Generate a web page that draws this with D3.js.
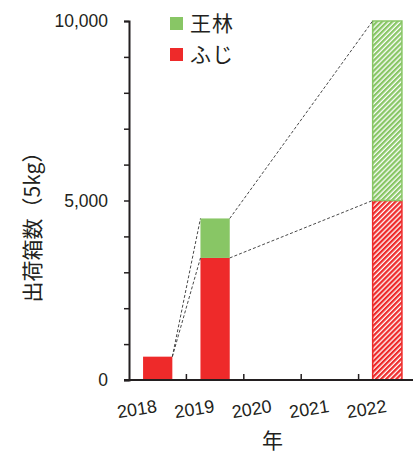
<!DOCTYPE html>
<html>
<head>
<meta charset="utf-8">
<script src="https://cdn.jsdelivr.net/npm/d3@7"></script>
<style>
  body { margin: 0; background: #fff; }
  svg { display: block; }
  .num { font-family: "Liberation Sans", Arial, sans-serif; fill: #231f20; }
  .jp { font-family: "Noto Sans CJK JP", sans-serif; fill: #231f20; }
</style>
</head>
<body>
<svg id="chart" width="420" height="455"></svg>
<script>
// data
const years = ["2018", "2019", "2020", "2021", "2022"];
const fuji = [650, 3400, null, null, 5000];
const orin = [0, 1100, null, null, 5000];
const planned = ["2022"];
const seriesNames = ["王林", "ふじ"];
const yTicks = [0, 1000, 2000, 3000, 4000, 5000, 6000, 7000, 8000, 9000, 10000];

const green = "#88c665";
const red = "#ee2a2a";
const ink = "#231f20";

const svg = d3.select("#chart");
const plotL = 129, plotR = 416, plotT = 21, plotB = 380;

const x = d3.scaleBand().domain(years).range([plotL, plotR]).padding(0);
const y = d3.scaleLinear().domain([0, 10000]).range([plotB, plotT]);
const barW = x.bandwidth() * 0.51;
const bx = yr => x(yr) + (x.bandwidth() - barW) / 2;

// hatch patterns for the planned year
const defs = svg.append("defs");
[["hatchG", green], ["hatchR", red]].forEach(([id, c]) => {
  const p = defs.append("pattern")
    .attr("id", id)
    .attr("patternUnits", "userSpaceOnUse")
    .attr("width", 3.6).attr("height", 3.6)
    .attr("patternTransform", "rotate(45)");
  p.append("rect").attr("width", 3.6).attr("height", 3.6).attr("fill", "#fff");
  p.append("rect").attr("width", 2.3).attr("height", 3.6).attr("fill", c);
});

// stacked rows
const rows = years.map((yr, i) => ({ yr, fuji: fuji[i], orin: orin[i] }))
  .filter(d => d.fuji != null);

const g = svg.append("g");
rows.forEach(d => {
  const hatched = planned.includes(d.yr);
  // ふじ
  g.append("rect")
    .attr("x", bx(d.yr)).attr("width", barW)
    .attr("y", y(d.fuji)).attr("height", y(0) - y(d.fuji))
    .attr("fill", hatched ? "url(#hatchR)" : red)
    .attr("stroke", hatched ? red : "none")
    .attr("stroke-width", 1.5);
  // 王林
  if (d.orin > 0) {
    g.append("rect")
      .attr("x", bx(d.yr)).attr("width", barW)
      .attr("y", y(d.fuji + d.orin)).attr("height", y(d.fuji) - y(d.fuji + d.orin))
      .attr("fill", hatched ? "url(#hatchG)" : green)
      .attr("stroke", hatched ? green : "none")
      .attr("stroke-width", 1.5);
  }
});

// dashed connector lines between bars
const links = [];
for (let i = 0; i < rows.length - 1; i++) {
  const a = rows[i], b = rows[i + 1];
  const ax = bx(a.yr) + barW, bxl = bx(b.yr);
  links.push([ax, y(a.fuji + a.orin), bxl, y(b.fuji + b.orin)]);
  links.push([ax, y(a.fuji), bxl, y(b.fuji)]);
}
svg.append("g").selectAll("line").data(links).join("line")
  .attr("x1", d => d[0]).attr("y1", d => d[1])
  .attr("x2", d => d[2]).attr("y2", d => d[3])
  .attr("stroke", "#333").attr("stroke-width", 0.9)
  .attr("stroke-dasharray", "3,2");

// y axis
const yAxis = d3.axisLeft(y)
  .tickValues(yTicks)
  .tickSize(5)
  .tickPadding(16)
  .tickFormat(v => v % 5000 === 0 ? d3.format(",")(v) : "");
const yG = svg.append("g").attr("transform", `translate(${plotL},0)`).call(yAxis);
yG.select(".domain").attr("stroke", ink).attr("stroke-width", 2);
yG.selectAll(".tick line").attr("stroke", ink).attr("stroke-width", 1.5);
yG.selectAll(".tick text").attr("class", "num").attr("font-size", 17.5);

// x axis, ticks between categories pointing up
const xG = svg.append("g");
xG.append("line")
  .attr("x1", plotL - 5).attr("x2", plotR - 3)
  .attr("y1", plotB).attr("y2", plotB)
  .attr("stroke", ink).attr("stroke-width", 2);
xG.selectAll(".xt").data(years.slice(1)).join("line")
  .attr("class", "xt")
  .attr("x1", d => x(d)).attr("x2", d => x(d))
  .attr("y1", plotB).attr("y2", plotB - 6)
  .attr("stroke", ink).attr("stroke-width", 1.5);
xG.selectAll("text").data(years).join("text")
  .attr("class", "num")
  .attr("font-size", 18)
  .attr("text-anchor", "end")
  .attr("transform", d => `translate(${x(d) + x.bandwidth() / 2},412) rotate(-9)`)
  .text(d => d);

// axis titles
svg.append("text").attr("class", "jp")
  .attr("font-size", 21)
  .attr("text-anchor", "middle")
  .attr("x", (plotL + plotR) / 2).attr("y", 448)
  .text("年");
svg.append("text").attr("class", "jp")
  .attr("font-size", 21)
  .attr("text-anchor", "middle")
  .attr("transform", `translate(40,222) rotate(-90)`)
  .text("出荷箱数（5kg）");

// legend
const legColors = [green, red];
const leg = svg.append("g").selectAll("g").data(seriesNames).join("g")
  .attr("transform", (d, i) => `translate(170,${17 + i * 31})`);
leg.append("rect").attr("width", 13).attr("height", 13)
  .attr("fill", (d, i) => legColors[i]);
leg.append("text").attr("class", "jp")
  .attr("font-size", 21)
  .attr("letter-spacing", 1)
  .attr("x", 20).attr("y", 14)
  .text(d => d);
</script>
</body>
</html>
